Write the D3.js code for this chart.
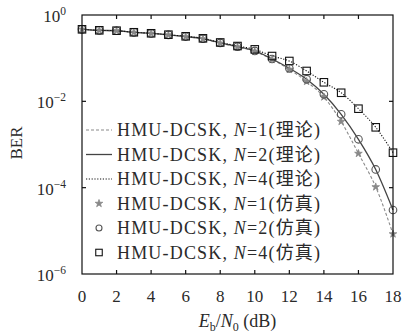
<!DOCTYPE html>
<html lang="zh">
<head>
<meta charset="UTF-8">
<title>HMU-DCSK BER</title>
<style>
    body { margin: 0; background: #fff; }
    svg text { font-family: "Liberation Serif", "Noto Sans CJK SC", serif; fill: #2a2a2a; }
</style>
</head>
<body>
<div id="chart"></div>
<script src="https://cdn.jsdelivr.net/npm/d3@7"></script>
<script>

    // Eb/N0 in dB
    var snr = [0, 1, 2, 3, 4, 5, 6, 7, 8, 9, 10, 11, 12, 13, 14, 15, 16, 17, 18];

    // theory curves
    var theoryN1 = [0.466, 0.441, 0.431, 0.396, 0.374, 0.345, 0.315, 0.280, 0.222, 0.181, 0.143, 0.0931, 0.0547, 0.0288, 0.0126, 0.00341, 6.19e-4, 1.04e-4, 8.45e-6];
    var theoryN2 = [0.466, 0.442, 0.432, 0.397, 0.375, 0.347, 0.317, 0.283, 0.226, 0.185, 0.147, 0.0957, 0.0582, 0.0324, 0.01456, 0.00501, 0.00132, 2.64e-4, 3.04e-5];
    var theoryN4 = [0.466, 0.442, 0.433, 0.398, 0.377, 0.350, 0.321, 0.288, 0.231, 0.191, 0.160, 0.112, 0.0860, 0.0505, 0.0276, 0.0158, 0.00675, 0.00250, 6.46e-4];

    // simulation points
    var simN1 = [0.466, 0.441, 0.431, 0.396, 0.374, 0.345, 0.315, 0.280, 0.222, 0.181, 0.143, 0.0931, 0.0547, 0.0288, 0.0126, 0.00341, 6.19e-4, 1.04e-4, 8.45e-6];
    var simN2 = [0.466, 0.442, 0.432, 0.397, 0.375, 0.347, 0.317, 0.283, 0.226, 0.185, 0.147, 0.0957, 0.0582, 0.0324, 0.01456, 0.00501, 0.00132, 2.64e-4, 3.04e-5];
    var simN4 = [0.466, 0.442, 0.433, 0.398, 0.377, 0.350, 0.321, 0.288, 0.231, 0.191, 0.160, 0.112, 0.0860, 0.0505, 0.0276, 0.0158, 0.00675, 0.00250, 6.46e-4];

    var xTicks = [0, 2, 4, 6, 8, 10, 12, 14, 16, 18];
    var yTicks = [1, 1e-2, 1e-4, 1e-6];
    var yTickExp = ["0", "\u22122", "\u22124", "\u22126"];

    var legendNames = ["1(理论)", "2(理论)", "4(理论)", "1(仿真)", "2(仿真)", "4(仿真)"];

    var width = 404,
        height = 333;
    var margin = {top: 15, right: 11, bottom: 59, left: 82};

    var svg = d3.select("#chart").append("svg")
        .attr("width", width)
        .attr("height", height);

    var x = d3.scaleLinear()
        .domain([0, 18])
        .range([margin.left, width - margin.right]);

    var y = d3.scaleLog()
        .domain([1e-6, 1])
        .range([height - margin.bottom, margin.top]);

    var line = d3.line()
        .x(function (d) { return x(d[0]); })
        .y(function (d) { return y(d[1]); })
        .curve(d3.curveMonotoneX);

    function pairs(vals) {
        return snr.map(function (s, i) { return [s, vals[i]]; });
    }

    var lineStyles = [
        {data: theoryN1, stroke: "#8a8a8a", width: 1.1, dash: "3,2"},
        {data: theoryN2, stroke: "#444", width: 1.3, dash: null},
        {data: theoryN4, stroke: "#111", width: 1.1, dash: "1.2,1.6"}
    ];

    var plot = svg.append("g");

    lineStyles.forEach(function (s) {
        plot.append("path")
            .attr("d", line(pairs(s.data)))
            .attr("fill", "none")
            .attr("stroke", s.stroke)
            .attr("stroke-width", s.width)
            .attr("stroke-dasharray", s.dash);
    });

    var star = d3.symbol().type(d3.symbolStar).size(18);

    function drawStar(g, cx, cy) {
        g.append("path")
            .attr("d", star())
            .attr("transform", "translate(" + cx + "," + cy + ")")
            .attr("fill", "#888")
            .attr("stroke", "#888")
            .attr("stroke-width", 0.8);
    }
    function drawCircle(g, cx, cy, r) {
        g.append("circle")
            .attr("cx", cx).attr("cy", cy).attr("r", r)
            .attr("fill", "none")
            .attr("stroke", "#555")
            .attr("stroke-width", 1.1);
    }
    function drawSquare(g, cx, cy, s) {
        g.append("rect")
            .attr("x", cx - s / 2).attr("y", cy - s / 2)
            .attr("width", s).attr("height", s)
            .attr("fill", "none")
            .attr("stroke", "#111")
            .attr("stroke-width", 1.1);
    }

    pairs(simN1).forEach(function (d) { drawStar(plot, x(d[0]), y(d[1])); });
    pairs(simN2).forEach(function (d) { drawCircle(plot, x(d[0]), y(d[1]), 3.8); });
    pairs(simN4).forEach(function (d) { drawSquare(plot, x(d[0]), y(d[1]), 7.5); });

    // frame and inward ticks
    var x0 = x.range()[0], x1 = x.range()[1], y0 = y.range()[0], y1 = y.range()[1];
    var frame = svg.append("g").attr("stroke", "#111").attr("stroke-width", 1.2);
    frame.append("rect")
        .attr("x", x0).attr("y", y1)
        .attr("width", x1 - x0).attr("height", y0 - y1)
        .attr("fill", "none");

    var tickLen = 4;
    xTicks.slice(1, -1).forEach(function (t) {
        frame.append("line").attr("x1", x(t)).attr("x2", x(t)).attr("y1", y0).attr("y2", y0 - tickLen);
        frame.append("line").attr("x1", x(t)).attr("x2", x(t)).attr("y1", y1).attr("y2", y1 + tickLen);
    });
    yTicks.slice(1, -1).forEach(function (t) {
        frame.append("line").attr("x1", x0).attr("x2", x0 + tickLen).attr("y1", y(t)).attr("y2", y(t));
        frame.append("line").attr("x1", x1).attr("x2", x1 - tickLen).attr("y1", y(t)).attr("y2", y(t));
    });

    // tick labels
    svg.append("g").selectAll("text")
        .data(xTicks)
        .enter().append("text")
        .attr("x", function (d) { return x(d); })
        .attr("y", y0 + 28)
        .attr("text-anchor", "middle")
        .attr("font-size", "17px")
        .text(function (d) { return d; });

    var yl = svg.append("g").selectAll("text")
        .data(yTicks)
        .enter().append("text")
        .attr("x", x0 - 16)
        .attr("y", function (d) { return y(d) + 7; })
        .attr("text-anchor", "end")
        .attr("font-size", "17px");
    yl.append("tspan").text("10");
    yl.append("tspan")
        .attr("dy", -7)
        .attr("font-size", "11.5px")
        .text(function (d, i) { return yTickExp[i]; });

    // axis titles
    var xt = svg.append("text")
        .attr("x", (x0 + x1) / 2)
        .attr("y", height - 6)
        .attr("text-anchor", "middle")
        .attr("font-size", "18px");
    xt.append("tspan").attr("font-style", "italic").text("E");
    xt.append("tspan").attr("font-size", "12px").attr("dy", 4).text("b");
    xt.append("tspan").attr("dy", -4).text("/");
    xt.append("tspan").attr("font-style", "italic").text("N");
    xt.append("tspan").attr("font-size", "12px").attr("dy", 4).text("0");
    xt.append("tspan").attr("dy", -4).text(" (dB)");

    svg.append("text")
        .attr("transform", "translate(22," + 143 + ") rotate(-90)")
        .attr("text-anchor", "middle")
        .attr("font-size", "17px")
        .text("BER");

    // legend
    var legend = svg.append("g");
    var rowY = d3.scaleLinear().domain([0, 5]).range([130, 252.5]);

    legendNames.forEach(function (name, i) {
        var cy = rowY(i);
        if (i < 3) {
            var s = lineStyles[i];
            legend.append("line")
                .attr("x1", x0 + 4).attr("x2", x0 + 30)
                .attr("y1", cy).attr("y2", cy)
                .attr("stroke", s.stroke)
                .attr("stroke-width", s.width)
                .attr("stroke-dasharray", s.dash);
        } else if (i === 3) {
            drawStar(legend, x0 + 17, cy);
        } else if (i === 4) {
            drawCircle(legend, x0 + 17, cy, 3);
        } else {
            drawSquare(legend, x0 + 17, cy, 6.5);
        }
        var t = legend.append("text")
            .attr("x", x0 + 35)
            .attr("y", cy + 6)
            .attr("font-size", "18px")
            .attr("textLength", 203)
            .attr("lengthAdjust", "spacing");
        t.append("tspan").text("HMU-DCSK, ");
        t.append("tspan").attr("font-style", "italic").text("N");
        t.append("tspan").text("=" + name);
    });

</script>
</body>
</html>
